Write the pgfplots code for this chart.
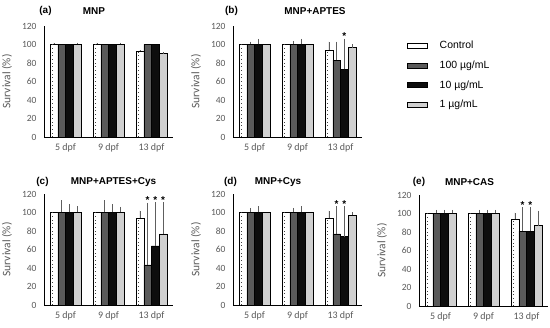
\documentclass[border=0pt]{standalone}
\usepackage{pgfplots}
\pgfplotsset{compat=1.18}
\usepackage{pgfplotstable}
\usepackage{fontspec}
\setmainfont{Carlito}
\newfontfamily\arial{Liberation Sans}
\definecolor{tickgray}{HTML}{595959}
\definecolor{darkbar}{HTML}{5A5A5A}
\definecolor{blackbar}{HTML}{0D0D0D}
\definecolor{lightbar}{HTML}{D0D0D0}
\definecolor{errgray}{HTML}{5E5E5E}

% x: 0 = 5 dpf, 1 = 9 dpf, 2 = 13 dpf
% c = Control, h = 100 ug/mL, t = 10 ug/mL, o = 1 ug/mL ; *e = error
\pgfplotstableread{
x c ce h he t te o oe
0 100 2 100 0 100 0 100 2
1 100 2 100 0 100 0 100 2
2 93 1 100 0 100 0 90 2
}\tA
\pgfplotstableread{
x c ce h he t te o oe
0 100 0 100 3 100 6 100 0
1 100 0 100 4 100 6 100 0
2 94 9 83 20 73 33 96.5 4
}\tB
\pgfplotstableread{
x c ce h he t te o oe
0 100 0 100 13 100 9 100 7
1 100 0 100 13 100 9 100 6
2 94 8 43.5 67 64 47 77 34
}\tC
\pgfplotstableread{
x c ce h he t te o oe
0 100 0 100 5 100 7 100 0
1 100 0 100 5 100 7 100 0
2 94 8 77 30 74 33 97 3
}\tD
\pgfplotstableread{
x c ce h he t te o oe
0 100 0 100 4 100 4 100 4
1 100 0 100 4 100 4 100 4
2 94 7 81 26 81 26 87 16
}\tE

\pgfplotsset{
 panel/.style={
  scale only axis, width=129bp, height=111bp,
  xmin=-0.5, xmax=2.5, ymin=0, ymax=120,
  axis x line*=bottom, axis y line*=left,
  axis line style={black, line width=0.6pt},
  xtick={0,1,2}, xticklabels={5 dpf, 9 dpf, 13 dpf},
  ytick={0,20,...,120},
  major tick length=0pt,
  xticklabel style={font=\fontsize{10}{12}\selectfont, text=tickgray, yshift=-3bp},
  yticklabel style={font=\fontsize{9.5}{11}\selectfont, text=tickgray, xshift=-4bp},
  /pgf/number format/assume math mode=true,
  ylabel={Survival (\%)},
  every axis y label/.style={at={(axis description cs:-0.287,0.5)}, rotate=90, anchor=center,
     font=\fontsize{11.5}{13}\selectfont, text=tickgray},
  clip=true,
  legend image code/.code={\draw[#1,/tikz/.cd] (0bp,-2.5bp) rectangle (20bp,2.5bp);},
 },
 ebar/.style={error bars/y dir=plus, error bars/y explicit, error bars/error mark=none,
   error bars/error bar style={errgray, line width=0.6pt}},
 barc/.style={ybar, bar width=7.7bp, bar shift=0pt, fill=white, draw=black, line width=0.5pt, ebar},
 barh/.style={ybar, bar width=7.7bp, bar shift=0pt, fill=darkbar, draw=black, line width=0.5pt, ebar},
 bart/.style={ybar, bar width=7.7bp, bar shift=0pt, fill=blackbar, draw=black, line width=0.5pt, ebar},
 baro/.style={ybar, bar width=7.7bp, bar shift=0pt, fill=lightbar, draw=black, line width=0.5pt, ebar},
}
% bar offsets in axis units (bar width 7.7bp = 0.17907 units)
\newcommand{\fourbars}[1]{%
 \addplot[barc] table[x expr=\thisrow{x}-0.2686,y=c,y error=ce]{#1};
 \addplot[barh] table[x expr=\thisrow{x}-0.0895,y=h,y error=he]{#1};
 \addplot[bart] table[x expr=\thisrow{x}+0.0895,y=t,y error=te]{#1};
 \addplot[baro] table[x expr=\thisrow{x}+0.2686,y=o,y error=oe]{#1};
 \addplot[ycomb, forget plot, mark=none, black!75, line width=0.45pt, dash pattern=on 0.7pt off 3pt] table[x expr=\thisrow{x}-0.30,y=c]{#1};
}
\tikzset{ttl/.style={font=\arial\bfseries\fontsize{10}{12}\selectfont, inner sep=0pt},
 star/.style={font=\arial\bfseries\fontsize{10}{12}\selectfont, inner sep=0pt, anchor=base}}

\begin{document}
\begin{tikzpicture}
\useasboundingbox (0,0) rectangle (550bp,328bp);
% (a)
\begin{axis}[panel, at={(44bp,191bp)}, anchor=south west]
\fourbars{\tA}
\end{axis}
% (b)
\begin{axis}[panel, at={(233bp,191bp)}, anchor=south west,
  legend style={at={(axis description cs:1.349,0.875)}, anchor=north west, draw=none, fill=none,
   inner sep=0pt, font=\arial\fontsize{10.5}{12}\selectfont, row sep=8.6bp, column sep=11bp,
   nodes={inner sep=1bp}},
  legend cell align=left]
\fourbars{\tB}
\node[star] at (axis cs:2.0895,105) {*};
\legend{Control, 100 µg/mL, 10 µg/mL, 1 µg/mL}
\end{axis}
% (c)
\begin{axis}[panel, at={(44bp,23bp)}, anchor=south west]
\fourbars{\tC}
\node[star] at (axis cs:1.9105,109.5) {*};
\node[star] at (axis cs:2.0895,109.5) {*};
\node[star] at (axis cs:2.268,109.5) {*};
\end{axis}
% (d)
\begin{axis}[panel, at={(233bp,23bp)}, anchor=south west]
\fourbars{\tD}
\node[star] at (axis cs:1.9105,105) {*};
\node[star] at (axis cs:2.0895,105) {*};
\end{axis}
% (e)
\begin{axis}[panel, at={(419bp,22bp)}, anchor=south west]
\fourbars{\tE}
\node[star] at (axis cs:1.9105,105) {*};
\node[star] at (axis cs:2.0895,105) {*};
\end{axis}
% titles
\node[ttl] at (45.5bp,317bp) {(a)};
\node[ttl] at (94bp,317bp) {MNP};
\node[ttl] at (231.5bp,317bp) {(b)};
\node[ttl] at (315bp,317bp) {MNP+APTES};
\node[ttl] at (42.5bp,146bp) {(c)};
\node[ttl] at (113.5bp,146bp) {MNP+APTES+Cys};
\node[ttl] at (230.5bp,146bp) {(d)};
\node[ttl] at (278bp,146bp) {MNP+Cys};
\node[ttl] at (419bp,146bp) {(e)};
\node[ttl] at (469.5bp,146bp) {MNP+CAS};
\end{tikzpicture}
\end{document}
